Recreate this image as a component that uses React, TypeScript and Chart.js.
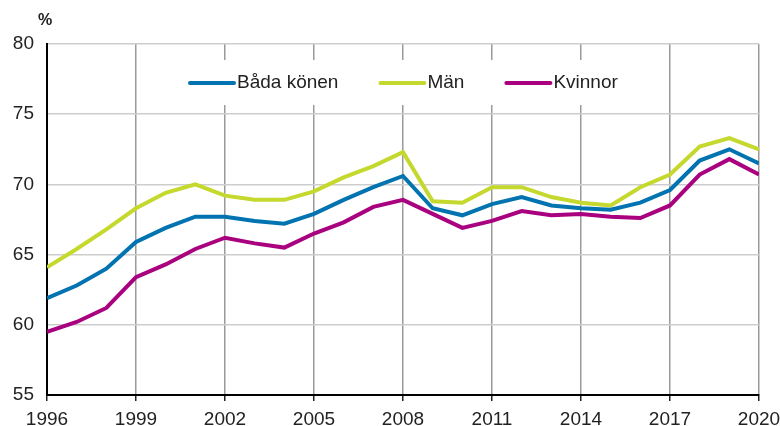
import React, { useEffect, useRef } from "react";
import { Chart, registerables } from "chart.js";

Chart.register(...registerables);

const years = [1996, 1997, 1998, 1999, 2000, 2001, 2002, 2003, 2004, 2005, 2006, 2007, 2008, 2009, 2010, 2011, 2012, 2013, 2014, 2015, 2016, 2017, 2018, 2019, 2020];
const badaKonen = [61.9, 62.8, 64.0, 65.9, 66.9, 67.7, 67.7, 67.4, 67.2, 67.9, 68.9, 69.8, 70.6, 68.3, 67.8, 68.6, 69.1, 68.5, 68.3, 68.2, 68.7, 69.6, 71.7, 72.5, 71.5];
const man = [64.1, 65.4, 66.8, 68.3, 69.4, 70.0, 69.2, 68.9, 68.9, 69.5, 70.5, 71.3, 72.3, 68.8, 68.7, 69.8, 69.8, 69.1, 68.7, 68.5, 69.8, 70.7, 72.7, 73.3, 72.5];
const kvinnor = [59.5, 60.2, 61.2, 63.4, 64.3, 65.4, 66.2, 65.8, 65.5, 66.5, 67.3, 68.4, 68.9, 67.9, 66.9, 67.4, 68.1, 67.8, 67.9, 67.7, 67.6, 68.5, 70.7, 71.8, 70.7];
const seriesLabels = ["Båda könen", "Män", "Kvinnor"];
const seriesColors = ["#0073B0", "#C5D82E", "#A8007F"];
const unitLabel = "%";

const FONT = "'Liberation Sans', Arial, sans-serif";
const TEXT = "#222222";

const legendPlugin = {
  id: "boxLegend",
  beforeDatasetsDraw(chart: any) {
    const ctx = chart.ctx;
    ctx.save();
    ctx.fillStyle = "#ffffff";
    ctx.fillRect(180, 60, 452, 45);
    ctx.font = `19px ${FONT}`;
    ctx.textBaseline = "middle";
    ctx.fillStyle = TEXT;
    let x = 190;
    const y = 83;
    chart.data.datasets.forEach((ds: any) => {
      ctx.strokeStyle = ds.borderColor;
      ctx.lineWidth = 4;
      ctx.lineCap = "round";
      ctx.beginPath();
      ctx.moveTo(x, y);
      ctx.lineTo(x + 44, y);
      ctx.stroke();
      ctx.fillStyle = TEXT;
      ctx.fillText(ds.label, x + 47, y);
      x += 47 + ctx.measureText(ds.label).width + 42;
    });
    ctx.restore();
  },
  afterDraw(chart: any) {
    const ctx = chart.ctx;
    ctx.save();
    ctx.font = `bold 16px ${FONT}`;
    ctx.fillStyle = TEXT;
    ctx.textBaseline = "middle";
    ctx.textAlign = "left";
    ctx.fillText(unitLabel, 38, 21);
    ctx.restore();
  },
};

export default function App() {
  const ref = useRef<HTMLCanvasElement>(null);
  useEffect(() => {
    const mk = (vals: number[]) => years.map((yr, i) => ({ x: yr, y: vals[i] }));
    const chart = new Chart(ref.current!, {
      type: "line",
      data: {
        datasets: [badaKonen, man, kvinnor].map((vals, i) => ({
          label: seriesLabels[i],
          data: mk(vals),
          borderColor: seriesColors[i],
          backgroundColor: seriesColors[i],
          borderWidth: 4,
          pointRadius: 0,
          tension: 0,
          fill: false,
        })),
      },
      options: {
        animation: false,
        responsive: true,
        maintainAspectRatio: false,
        layout: { padding: { left: 0, right: 21, top: 44, bottom: 0 } },
        plugins: { legend: { display: false }, tooltip: { enabled: false } },
        scales: {
          x: {
            type: "linear",
            min: 1996,
            max: 2020,
            afterFit(scale: any) {
              scale.height = 31;
              scale.paddingLeft = 0;
              scale.paddingRight = 0;
              scale.paddingTop = 0;
              scale.paddingBottom = 0;
            },
            ticks: {
              stepSize: 3,
              autoSkip: false,
              maxRotation: 0,
              padding: 7,
              color: TEXT,
              font: { family: FONT, size: 19 },
              callback: (v: any) => String(v),
            },
            grid: {
              color: "#9a9a9a",
              lineWidth: 1.5,
              drawTicks: true,
              tickLength: 6,
              tickColor: "#222",
            },
            border: { display: true, color: "#000", width: 2 },
          },
          y: {
            min: 55,
            max: 80,
            afterFit(scale: any) {
              scale.width = 47;
              scale.paddingLeft = 0;
              scale.paddingRight = 0;
              scale.paddingTop = 0;
              scale.paddingBottom = 0;
            },
            ticks: {
              stepSize: 5,
              padding: 13,
              color: TEXT,
              font: { family: FONT, size: 19 },
            },
            grid: { color: "#cdcdcd", lineWidth: 1.5, drawTicks: false },
            border: { display: true, color: "#000", width: 2 },
          },
        },
      },
      plugins: [legendPlugin],
    });
    return () => chart.destroy();
  }, []);
  return (
    <div style={{ position: "fixed", left: 0, top: 0, width: 780, height: 426, background: "#fff" }}>
      <canvas ref={ref} />
    </div>
  );
}
